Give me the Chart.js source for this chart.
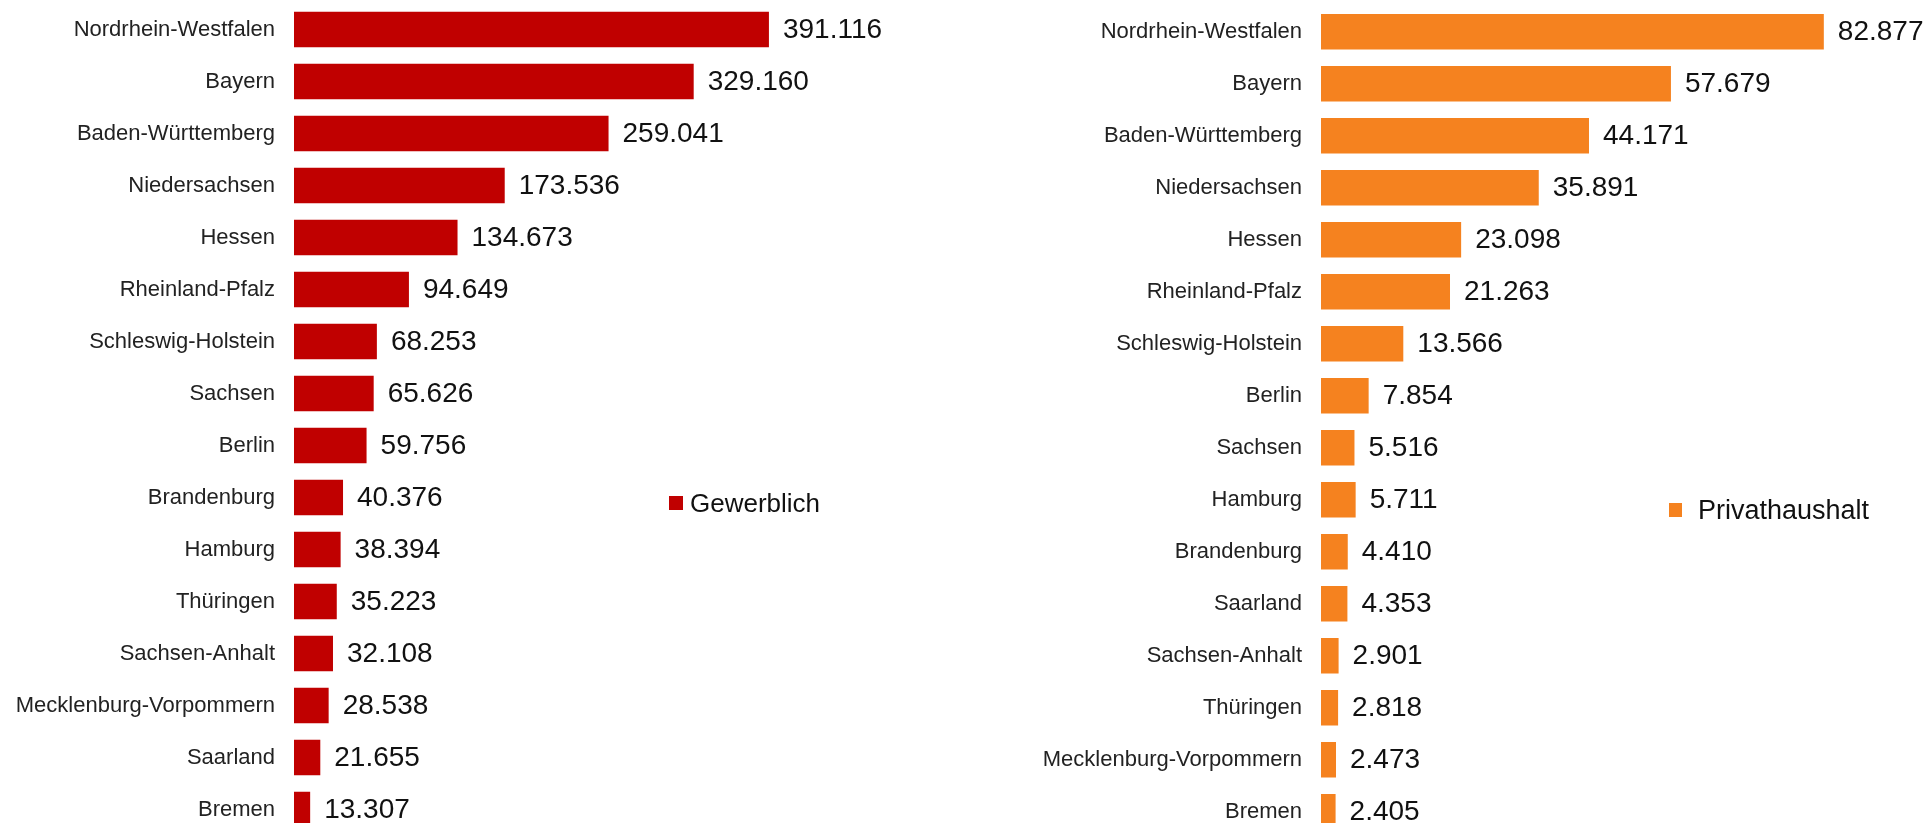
<!DOCTYPE html>
<html lang="de">
<head>
    <meta charset="UTF-8">
    <title>Gewerblich / Privathaushalt nach Bundesland</title>
    <script src="https://cdn.jsdelivr.net/npm/chart.js"></script>
    <style>
        body {
            margin: 0;
            width: 1928px;
            height: 823px;
            overflow: hidden;
            background: #fff;
            font-family: 'Liberation Sans', Arial, sans-serif;
        }
        .panel {
            position: absolute;
            top: 0;
            width: 964px;
            height: 840px;
        }
        .legend {
            position: absolute;
            display: flex;
            align-items: center;
            line-height: 30px;
            color: #111;
        }
        .legend .box {
            display: inline-block;
        }
    </style>
</head>
<body>
    <div class="panel" style="left:0"><canvas id="chartLeft"></canvas></div>
    <div class="panel" style="left:964px"><canvas id="chartRight"></canvas></div>

    <div class="legend" style="left:669px; top:488px; font-size:26px;">
        <span class="box" style="width:14px;height:14px;background:#C00000;margin-right:7px;"></span>Gewerblich
    </div>
    <div class="legend" style="left:1669px; top:495px; font-size:27px;">
        <span class="box" style="width:13px;height:14px;background:#F5821F;margin-right:16px;"></span>Privathaushalt
    </div>

    <script>
        // Gewerblich
        const laenderGewerblich = ['Nordrhein-Westfalen', 'Bayern', 'Baden-Württemberg', 'Niedersachsen', 'Hessen',
            'Rheinland-Pfalz', 'Schleswig-Holstein', 'Sachsen', 'Berlin', 'Brandenburg', 'Hamburg', 'Thüringen',
            'Sachsen-Anhalt', 'Mecklenburg-Vorpommern', 'Saarland', 'Bremen'];
        const werteGewerblich = [391116, 329160, 259041, 173536, 134673, 94649, 68253, 65626, 59756, 40376,
            38394, 35223, 32108, 28538, 21655, 13307];

        // Privathaushalt
        const laenderPrivat = ['Nordrhein-Westfalen', 'Bayern', 'Baden-Württemberg', 'Niedersachsen', 'Hessen',
            'Rheinland-Pfalz', 'Schleswig-Holstein', 'Berlin', 'Sachsen', 'Hamburg', 'Brandenburg', 'Saarland',
            'Sachsen-Anhalt', 'Thüringen', 'Mecklenburg-Vorpommern', 'Bremen'];
        const wertePrivat = [82877, 57679, 44171, 35891, 23098, 21263, 13566, 7854, 5516, 5711, 4410, 4353,
            2901, 2818, 2473, 2405];

        const FONT = "'Liberation Sans', Arial, sans-serif";

        function formatDe(v) {
            return String(v).replace(/\B(?=(\d{3})+(?!\d))/g, '.');
        }

        // value labels to the right of each bar
        const valueLabels = {
            id: 'valueLabels',
            afterDatasetsDraw(chart) {
                const ctx = chart.ctx;
                const meta = chart.getDatasetMeta(0);
                const data = chart.data.datasets[0].data;
                ctx.save();
                ctx.font = '28px ' + FONT;
                ctx.fillStyle = '#111';
                ctx.textAlign = 'left';
                ctx.textBaseline = 'middle';
                meta.data.forEach((bar, i) => {
                    ctx.fillText(formatDe(data[i]), bar.x + 14, bar.y + 1);
                });
                ctx.restore();
            }
        };

        function makeChart(id, labels, values, color, axisWidth, xMax, pad) {
            return new Chart(document.getElementById(id), {
                type: 'bar',
                data: {
                    labels: labels,
                    datasets: [{
                        data: values,
                        backgroundColor: color,
                        borderWidth: 0,
                        categoryPercentage: 1,
                        barPercentage: 0.685
                    }]
                },
                options: {
                    indexAxis: 'y',
                    responsive: true,
                    maintainAspectRatio: false,
                    animation: false,
                    layout: { padding: pad },
                    plugins: {
                        legend: { display: false },
                        tooltip: { enabled: false }
                    },
                    scales: {
                        x: {
                            display: false,
                            min: 0,
                            max: xMax
                        },
                        y: {
                            grid: { display: false, drawTicks: false },
                            border: { display: false },
                            ticks: {
                                padding: 19,
                                color: '#222',
                                font: { family: FONT, size: 22 },
                                autoSkip: false
                            },
                            afterFit(axis) {
                                axis.width = axisWidth;
                                // tick padding should only push labels sideways, not shrink the plot vertically
                                axis.paddingTop = 0;
                                axis.paddingBottom = 0;
                            }
                        }
                    }
                },
                plugins: [valueLabels]
            });
        }

        makeChart('chartLeft', laenderGewerblich, werteGewerblich, '#C00000', 294, 532000,
            { left: 0, right: 24, top: 3.5, bottom: 4.5 });
        makeChart('chartRight', laenderPrivat, wertePrivat, '#F5821F', 357, 98400,
            { left: 0, right: 10, top: 5.7, bottom: 2.3 });
    </script>
</body>
</html>
